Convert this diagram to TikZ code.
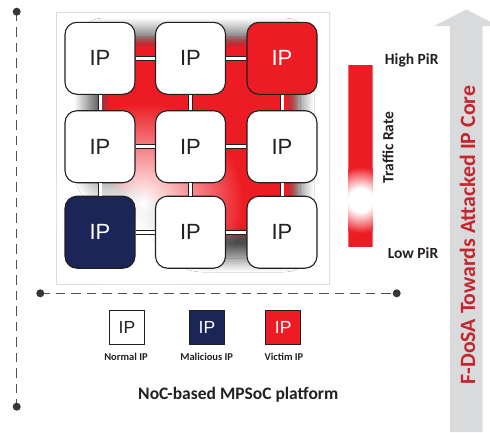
\documentclass[tikz,border=0pt]{standalone}
\usepackage{fontspec}
\setmainfont{Carlito}
\newfontfamily\ipfont{Liberation Sans}
\usetikzlibrary{shadows.blur,fadings}

\definecolor{ipred}{HTML}{ED1C24}
\definecolor{ipnavy}{HTML}{1C2558}
\definecolor{ink}{HTML}{231F20}
\definecolor{arrowgray}{HTML}{D9DADC}
\definecolor{titlered}{HTML}{C4262E}
\definecolor{dashgray}{HTML}{505050}
\definecolor{panelgray}{HTML}{DDDDDD}

% white core fading to red inside the traffic-rate bar
\pgfdeclareradialshading{barblob}{\pgfpointorigin}{color(0bp)=(white); color(9bp)=(white); color(25bp)=(ipred); color(50bp)=(ipred)}
% opaque centre, transparent rim
\tikzfading[name=glowfade, inner color=transparent!0, outer color=transparent!100]

\begin{document}
\begin{tikzpicture}[x=1pt,y=-1pt,
  ipbox/.style={draw=ink, line width=1.1pt, rounded corners=12pt,
    minimum width=70pt, minimum height=72pt, inner sep=0pt, fill=white,
    text=ink, font=\ipfont\fontsize{22}{24}\selectfont},
  legbox/.style={draw=ink, line width=1.3pt, minimum width=35pt,
    minimum height=34pt, inner sep=0pt, fill=white, text=ink,
    font=\ipfont\fontsize{17.5}{19}\selectfont},
  leglabel/.style={text=ink, font=\bfseries\fontsize{10.5}{12}\selectfont},
  sidelabel/.style={text=ink, font=\bfseries\fontsize{15.5}{17}\selectfont},
  link/.style={draw=ink, line width=0.8pt, double=white, double distance=3pt},
  dashline/.style={draw=dashgray, line width=1.3pt, dash pattern=on 9.5pt off 6pt},
  enddot/.style={fill=ink!90},
]
\useasboundingbox (0,0) rectangle (490,432);
\clip (0,0) rectangle (490,432);

% platform panel
\draw[panelgray, line width=0.6pt, fill=white] (56.7,12.3) rectangle (329.3,284);

% dark halo around the congested region
\path[blur shadow={shadow xshift=0pt, shadow yshift=0pt, shadow blur radius=14pt,
      shadow blur steps=24, shadow opacity=70},
      rounded corners=16pt]
  (88,32) -- (300,32) -- (300,258) -- (186,258) -- (150,214) -- (88,188) -- cycle;
% red traffic with soft rim
\foreach \w/\o in {20/0.22,14/0.3,8/0.45} {
  \draw[ipred, opacity=\o, line width=\w pt, line join=round, rounded corners=16pt]
    (108,46) -- (288,46) -- (288,228) -- (200,228) -- (160,200) -- (108,176) -- cycle;
}
\fill[ipred, rounded corners=16pt]
  (108,46) -- (288,46) -- (288,228) -- (200,228) -- (160,200) -- (108,176) -- cycle;
% traffic fades out towards the malicious core
\fill[white, path fading=glowfade] (143,203) circle (100pt);

% IP cores
\node[ipbox] (b11) at (100,58.3) {IP};
\node[ipbox] (b12) at (190.5,58.3) {IP};
\node[ipbox, fill=ipred, text=white] (b13) at (282,58.3) {IP};
\node[ipbox] (b21) at (100,146.7) {IP};
\node[ipbox] (b22) at (190.5,146.7) {IP};
\node[ipbox] (b23) at (282,146.7) {IP};
\node[ipbox, fill=ipnavy, text=white] (b31) at (100,232.2) {IP};
\node[ipbox] (b32) at (190.5,232.2) {IP};
\node[ipbox] (b33) at (282,232.2) {IP};

% mesh links
\foreach \r in {1,2,3} {
  \draw[link] (b\r1) -- (b\r2);
  \draw[link] (b\r2) -- (b\r3);
}
\foreach \c in {1,2,3} {
  \draw[link] (b1\c) -- (b2\c);
  \draw[link] (b2\c) -- (b3\c);
}

% axes
\coordinate (vtop) at (16.7,11.7);
\coordinate (vbot) at (16.7,406.7);
\coordinate (hl) at (40.3,293.3);
\coordinate (hr) at (396.7,293.3);
\draw[dashline] (vtop) -- (vbot);
\draw[dashline] (hl) -- (hr);
\foreach \p in {vtop,vbot,hl,hr} \fill[enddot] (\p) circle (4pt);

% legend
\node[legbox] (lnormal) at (127,327.3) {IP};
\node[legbox, fill=ipnavy, text=white] (lmal) at (207,327.3) {IP};
\node[legbox, fill=ipred, text=white] (lvic) at (283.2,327.3) {IP};
\node[leglabel] (tnormal) at (126,356.7) {Normal IP};
\node[leglabel] (tmal) at (206.7,356.7) {Malicious IP};
\node[leglabel] (tvic) at (284,356.7) {Victim IP};
\node[text=ink, font=\bfseries\fontsize{17.5}{20}\selectfont] (platform) at (238.3,395) {NoC-based MPSoC platform};

% traffic-rate scale
\begin{scope}
  \clip (348.3,65) rectangle (372.7,246.7);
  \fill[ipred] (348.3,65) rectangle (372.7,246.7);
  \shade[shading=barblob] (360.5,200) circle (33pt);
\end{scope}
\node[sidelabel] (high) at (411.7,60) {High PiR};
\node[sidelabel] (low) at (413,253) {Low PiR};
\node[sidelabel, rotate=90] (rate) at (388,147.5) {Traffic Rate};

% attack direction arrow
\fill[arrowgray] (450,432) -- (450,26) -- (434,26) -- (466.3,9.5) -- (498.6,26)
  -- (482.7,26) -- (482.7,432) -- cycle;
\node[rotate=90, text=titlered, font=\bfseries\fontsize{21.8}{24}\selectfont]
  (title) at (467.5,235) {F-DoSA Towards Attacked IP Core};
\end{tikzpicture}
\end{document}
